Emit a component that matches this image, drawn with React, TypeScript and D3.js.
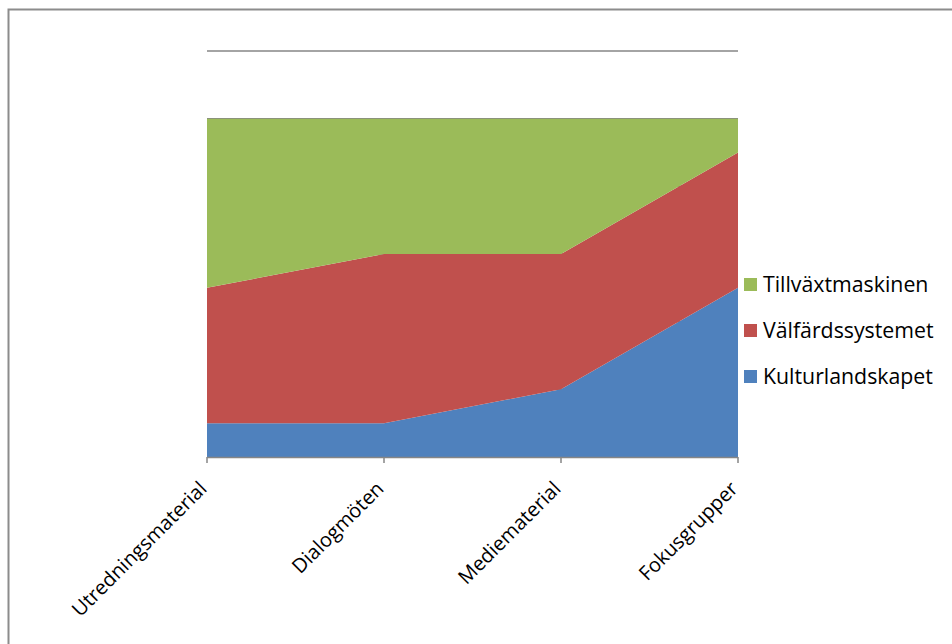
import React from "react";
import * as d3 from "d3";

const categories = ["Utredningsmaterial", "Dialogmöten", "Mediematerial", "Fokusgrupper"];
const seriesNames = ["Kulturlandskapet", "Välfärdssystemet", "Tillväxtmaskinen"];
const kulturlandskapet = [10, 10, 20, 50];
const valfardssystemet = [40, 50, 40, 40];
const tillvaxtmaskinen = [50, 40, 40, 10];
const yTicks = [0, 20, 40, 60, 80, 100, 120];
const colors = ["#4F81BD", "#C0504D", "#9BBB59"];

export default function App() {
  const W = 952, H = 644;
  const left = 207, right = 738, top = 51, bottom = 457;
  const x = d3.scalePoint<string>().domain(categories).range([left, right]);
  const y = d3.scaleLinear().domain([0, 120]).range([bottom, top]);
  const rows = categories.map((c, i) => ({
    cat: c,
    Kulturlandskapet: kulturlandskapet[i],
    Välfärdssystemet: valfardssystemet[i],
    Tillväxtmaskinen: tillvaxtmaskinen[i],
  }));
  const stacked = d3.stack<any>().keys(seriesNames)(rows);
  const area = d3
    .area<any>()
    .x((d) => x(d.data.cat)!)
    .y0((d) => y(d[0]))
    .y1((d) => y(d[1]));
  const font = "'Open Sans', sans-serif";
  const legendOrder = [2, 1, 0];
  return (
    <svg width={W} height={H} style={{ position: "absolute", left: 0, top: 0, background: "#fff" }}>
      <rect x={8.5} y={9.5} width={W} height={H} fill="#fff" stroke="#8c8c8c" strokeWidth={2} />
      {yTicks.map((t) => (
        <line key={t} x1={left} x2={right} y1={y(t)} y2={y(t)} stroke="#868686" strokeWidth={1.5} />
      ))}
      {stacked.map((s, i) => (
        <path key={s.key} d={area(s as any)!} fill={colors[i]} />
      ))}
      <line x1={left} x2={right} y1={bottom + 0.5} y2={bottom + 0.5} stroke="#868686" strokeWidth={1.5} />
      {categories.map((c) => (
        <line key={c} x1={x(c)!} x2={x(c)!} y1={bottom} y2={bottom + 6} stroke="#868686" strokeWidth={1.5} />
      ))}
      {categories.map((c) => (
        <text
          key={c}
          transform={`translate(${x(c)! + 1},${bottom + 33}) rotate(-45)`}
          textAnchor="end"
          fontFamily={font}
          fontSize={20}
          fill="#000"
        >
          {c}
        </text>
      ))}
      {legendOrder.map((si, j) => (
        <g key={si} transform={`translate(744,${284 + j * 46})`}>
          <rect x={0} y={-6} width={13} height={13} fill={colors[si]} />
          <text x={19} y={7.5} fontFamily={font} fontSize={21.3} fill="#000">
            {seriesNames[si]}
          </text>
        </g>
      ))}
    </svg>
  );
}
